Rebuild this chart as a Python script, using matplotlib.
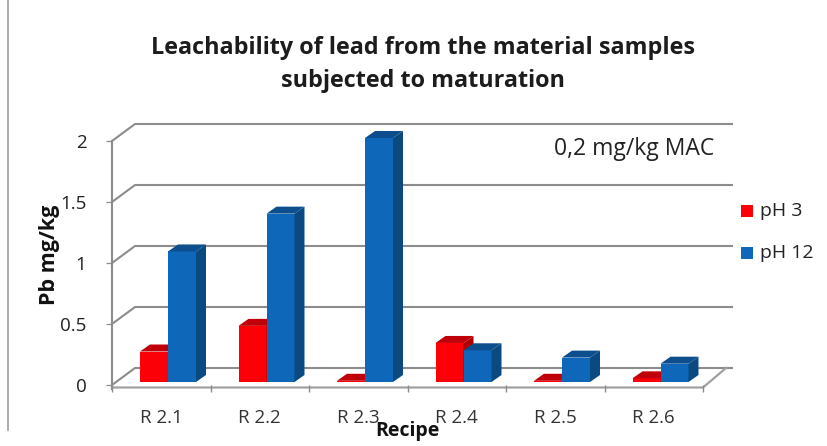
import matplotlib
matplotlib.use("Agg")
import matplotlib.pyplot as plt
from matplotlib.patches import Polygon, Rectangle
from matplotlib.lines import Line2D

plt.rcParams['font.family'] = ['Open Sans', 'DejaVu Sans']

categories = ['R 2.1', 'R 2.2', 'R 2.3', 'R 2.4', 'R 2.5', 'R 2.6']
ph3 = [0.25, 0.46, 0.01, 0.32, 0.01, 0.03]
ph12 = [1.07, 1.38, 2.0, 0.26, 0.2, 0.15]
y_ticks = [0, 0.5, 1, 1.5, 2]
y_labels = ['0', '0.5', '1', '1.5', '2']

W, H = 827, 446
fig = plt.figure(figsize=(W / 100, H / 100), dpi=100, facecolor='white')
L, R, T, B = 112, 703, 141, 385
ax = fig.add_axes([L / W, 1 - B / H, (R - L) / W, (B - T) / H])
ax.set_xlim(0, 6)
ax.set_ylim(0, 2)
ax.patch.set_visible(False)
for s in ax.spines.values():
    s.set_visible(False)

px = 6 / (R - L)           # data units per pixel, x
py = 2 / (B - T)           # data units per pixel, y
gdx, gdy = 23 * px, 17 * py  # wall depth
gray = '#8c8c8c'

# axis ticks and labels
ax.set_yticks(y_ticks, y_labels)
ax.tick_params(axis='y', length=4.5, width=0.9, color=gray, pad=14, labelsize=13.5, labelcolor='#222222')
ax.set_xticks(range(7), [''] * 7)
ax.set_xticks([i + 0.5 for i in range(6)], categories, minor=True)
ax.tick_params(axis='x', which='major', length=5, width=1.0, color=gray)
ax.tick_params(axis='x', which='minor', length=0, pad=17, labelsize=13.5, labelcolor='#333333')

# back wall, gridlines and side wall
for v in y_ticks:
    ax.plot([0, gdx, 6 + gdx + 7 * px], [v, v + gdy, v + gdy], color=gray, lw=1.5,
            clip_on=False, zorder=1, solid_capstyle='butt')
# floor
ax.plot([0, 6, 6 + gdx], [-2.5 * py, -2.5 * py, gdy], color='#a0a0a0', lw=1.6, clip_on=False, zorder=1)
ax.plot([0, 0], [-4 * py, 2], color=gray, lw=1.5, clip_on=False, zorder=2)

# bars
bw = 28 * px
off = 28 * px
by = 3 * py
ddx, ddy = 10 * px, 7 * py


def bar3d(x0, v, front, side, top, z):
    y0, y1 = by, by + v
    ax.add_patch(Rectangle((x0, y0), bw, v, fc=front, ec='none', clip_on=False, zorder=z))
    ax.add_patch(Polygon([(x0 + bw, y0), (x0 + bw + ddx, y0 + ddy), (x0 + bw + ddx, y1 + ddy), (x0 + bw, y1)],
                         fc=side, ec='none', clip_on=False, zorder=z))
    ax.add_patch(Polygon([(x0, y1), (x0 + ddx, y1 + ddy), (x0 + bw + ddx, y1 + ddy), (x0 + bw, y1)],
                         fc=top, ec='none', clip_on=False, zorder=z))


for i, (a, b) in enumerate(zip(ph3, ph12)):
    bar3d(i + off, a, '#fb0006', '#b00000', '#c00008', 3 + i)
    bar3d(i + off + bw, b, '#0f67b9', '#0b4a80', '#0d4f8e', 3 + i + 0.5)

fig.text(423 / W, 1 - 48 / H, 'Leachability of lead from the material samples', ha='center', va='center',
         fontsize=16.8, fontweight='bold', color='#1c1c1c')
fig.text(423 / W, 1 - 81 / H, 'subjected to maturation', ha='center', va='center',
         fontsize=16.8, fontweight='bold', color='#1c1c1c')
fig.text(50 / W, 1 - 255 / H, 'Pb mg/kg', rotation=90, ha='center', va='center',
         fontsize=15.5, fontweight='bold', color='#111111')
fig.text(407 / W, 1 - 431 / H, 'Recipe', ha='center', va='center',
         fontsize=14, fontweight='bold', color='#111111')
fig.text(634 / W, 1 - 149 / H, '0,2 mg/kg MAC', ha='center', va='center', fontsize=16.5, color='#222222')

# legend
for yp, col, lab in [(211, '#fb0006', 'pH 3'), (253, '#0f67b9', 'pH 12')]:
    fig.add_artist(Rectangle((741 / W, 1 - (yp + 6) / H), 12 / W, 12 / H, fc=col, ec='none',
                             transform=fig.transFigure))
    fig.text(760 / W, 1 - yp / H, lab, ha='left', va='center', fontsize=14, color='#222222')

# frame remnant at left
fig.add_artist(Line2D([8 / W, 8 / W], [1 - 430 / H, 1], color='#a0a0a0', lw=1.2, transform=fig.transFigure))

fig.savefig('out.png', dpi=100)
